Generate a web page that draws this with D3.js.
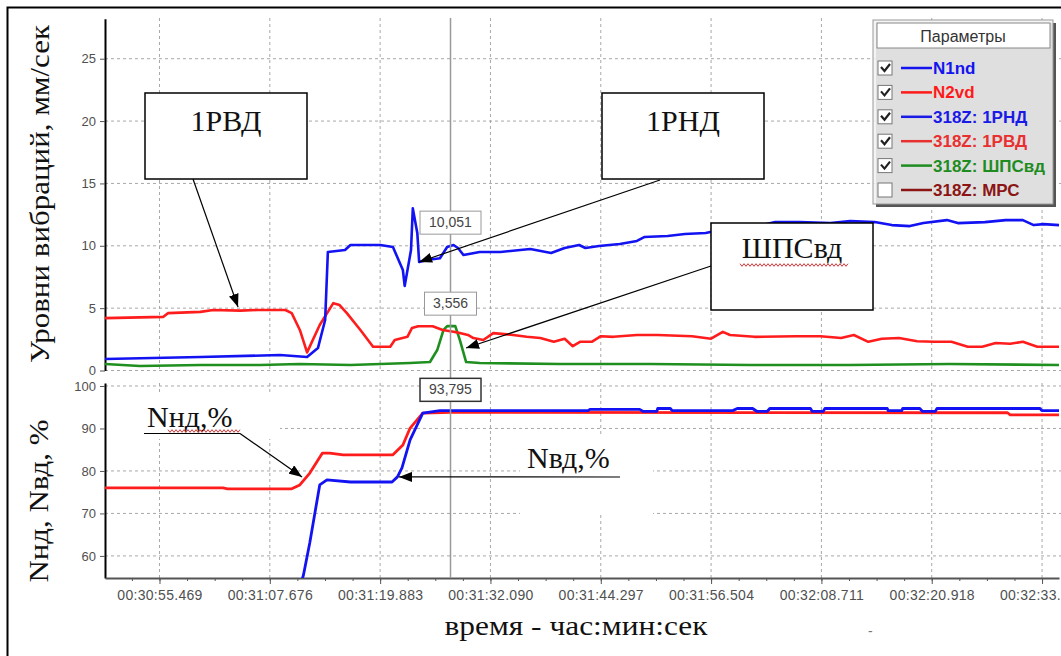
<!DOCTYPE html>
<html>
<head>
<meta charset="utf-8">
<script src="https://cdn.jsdelivr.net/npm/d3@7"></script>
<style>
  body { margin: 0; background: #fff; }
  svg text { font-family: "Liberation Sans", Arial, sans-serif; }
  svg .serif { font-family: "Liberation Serif", "Times New Roman", serif; fill: #111; }
</style>
</head>
<body>
<div id="chart"></div>
<script>
// время в секундах после 00:30:00
const xTicks = [55.469, 67.676, 79.883, 92.090, 104.297, 116.504, 128.711, 140.918, 153.125];
const xTickLabels = ["00:30:55.469", "00:31:07.676", "00:31:19.883", "00:31:32.090", "00:31:44.297",
                     "00:31:56.504", "00:32:08.711", "00:32:20.918", "00:32:33.125"];
const vibTicks = [0, 5, 10, 15, 20, 25];
const nTicks = [60, 70, 80, 90, 100];

// 318Z: 1РНД (синий, верхний график)
const rndTime = [49.4, 60.0, 68.8, 71.8, 73.0, 73.8, 74.1, 76.0, 76.6, 79.9, 81.3, 82.4, 82.6, 83.3, 83.5, 84.0, 84.2, 85.1, 86.5, 87.3,
                 88.0, 88.5, 89.1, 90.9, 93.2, 95.4, 96.5, 98.8, 100.3, 101.9, 102.6, 104.1, 106.4, 108.3, 109.1, 111.7, 113.6, 115.9, 117.5, 120.8,
                 123.6, 126.3, 129.7, 131.9, 134.6, 136.5, 138.5, 140.0, 142.6, 143.8, 146.8, 149.1, 151.0, 152.2, 153.3, 155.0];
const rndVal = [0.92, 1.08, 1.24, 1.08, 1.8, 4.05, 9.5, 9.66, 10.06, 10.06, 9.9, 8.06, 6.78, 9.66, 13.0, 11.0, 8.7, 8.86, 9.0, 9.9,
                10.06, 9.82, 9.26, 9.5, 9.5, 9.66, 9.74, 9.42, 9.82, 10.06, 9.82, 9.98, 10.14, 10.39, 10.7, 10.78, 10.95, 11.03, 11.26, 11.43,
                11.9, 11.9, 11.82, 11.98, 11.9, 11.66, 11.58, 11.82, 12.06, 11.82, 11.9, 12.06, 12.06, 11.66, 11.74, 11.66];

// 318Z: 1РВД (красный, верхний график)
const rvdTime = [49.4, 55.9, 56.4, 60.0, 61.4, 64.4, 66.3, 69.4, 70.1, 71.0, 71.8, 73.2, 74.7, 75.4, 76.2, 77.7, 79.1, 81.0, 81.5, 82.9,
                 83.4, 84.1, 85.7, 86.8, 88.0, 88.7, 89.6, 90.2, 91.3, 92.4, 94.6, 96.1, 97.6, 99.1, 100.3, 101.2, 102.0, 103.3, 104.3, 105.7,
                 108.3, 110.6, 114.4, 116.5, 117.8, 118.6, 121.3, 125.9, 128.6, 130.9, 132.3, 133.9, 135.4, 137.3, 139.3, 141.2, 143.1, 144.9, 146.5, 148.0,
                 149.6, 151.0, 152.6, 155.0];
const rvdVal = [4.2, 4.3, 4.6, 4.7, 4.85, 4.8, 4.85, 4.85, 4.6, 3.25, 1.45, 3.65, 5.4, 5.25, 4.6, 3.25, 1.9, 1.9, 2.45, 2.7,
                3.4, 3.55, 3.55, 3.25, 3.1, 3.0, 2.85, 2.6, 2.45, 3.0, 2.85, 2.7, 2.6, 2.3, 2.55, 1.95, 2.3, 2.3, 2.75, 2.7,
                2.85, 2.85, 2.75, 2.55, 3.1, 2.85, 2.7, 2.75, 2.75, 2.6, 2.85, 2.3, 2.55, 2.6, 2.35, 2.3, 2.3, 1.9, 1.9, 2.2,
                2.15, 2.3, 1.9, 1.9];

// 318Z: ШПСвд (зелёный)
const shpsTime = [49.4, 53.3, 60.0, 66.6, 71.0, 76.6, 79.9, 83.2, 85.4, 86.2, 86.9, 87.3, 88.2, 88.7, 89.4, 90.9, 99.8, 109.8, 120.8, 131.9, 142.9, 155.0];
const shpsVal = [0.52, 0.36, 0.44, 0.44, 0.52, 0.44, 0.52, 0.6, 0.68, 1.64, 3.25, 3.56, 3.56, 2.45, 0.68, 0.6, 0.52, 0.52, 0.44, 0.44, 0.52, 0.44];

// N2vd (красный, нижний график)
const n2Time = [49.4, 62.5, 63.0, 70.1, 71.0, 72.1, 73.5, 74.3, 75.8, 81.3, 82.4, 83.2, 84.6, 87.7, 149.3, 149.6, 155.0];
const n2Val = [76.0, 76.0, 75.8, 75.8, 76.7, 79.5, 84.2, 84.2, 83.8, 83.8, 86.1, 90.1, 93.6, 93.8, 93.7, 93.2, 93.2];

// N1nd (синий, нижний график)
const n1Time = [49.4, 70.9, 71.4, 72.1, 73.2, 74.0, 76.6, 81.2, 81.8, 82.3, 83.2, 84.6, 86.5, 102.9, 103.1, 108.6, 109.0, 110.5, 110.6, 112.0,
                112.2, 118.9, 119.4, 121.1, 121.6, 122.7, 123.0, 127.5, 127.7, 128.9, 129.1, 136.0, 136.1, 137.6, 137.7, 139.6, 139.9, 141.3, 141.5, 152.9,
                153.1, 155.0];
const n1Val = [52, 52, 55.5, 63.1, 76.7, 77.9, 77.4, 77.4, 78.6, 80.7, 87.3, 93.6, 94.2, 94.2, 94.5, 94.5, 94.0, 94.0, 94.7, 94.7,
               94.2, 94.2, 94.7, 94.7, 94.0, 94.0, 94.7, 94.7, 94.0, 94.0, 94.7, 94.7, 94.2, 94.2, 94.7, 94.7, 94.0, 94.0, 94.7, 94.7,
               94.2, 94.2];

// курсор и его показания
const cursorTime = 87.67;
const cursorValues = [10.051, 3.556, 93.795];
const cursorLabels = ["10,051", "3,556", "93,795"];

// легенда
const legendNames = ["N1nd", "N2vd", "318Z: 1РНД", "318Z: 1РВД", "318Z: ШПСвд", "318Z: МРС"];
const legendColors = ["#1414f0", "#ff1a1a", "#1a1ae6", "#e83030", "#1f8c1f", "#8b1414"];
const legendChecked = [true, true, true, true, true, false];

const BLUE = "#1212f2", RED = "#ff1c1c", GREEN = "#1f8f1f";

function draw() {
    const W = 1061, H = 656;
    const svg = d3.select("#chart").append("svg")
        .attr("width", W).attr("height", H);

    svg.append("rect").attr("width", W).attr("height", H).attr("fill", "#fff");

    const x = d3.scaleLinear().domain([49.44, 155.0]).range([105, 1059]);
    const yTop = d3.scaleLinear().domain([0, 28.2]).range([370.5, 18.8]);
    const yBot = d3.scaleLinear().domain([54.8, 100.7]).range([578, 383]);

    const defs = svg.append("defs");
    defs.append("clipPath").attr("id", "clipTop").append("rect")
        .attr("x", 105).attr("y", 18).attr("width", 960).attr("height", 354);
    defs.append("clipPath").attr("id", "clipBot").append("rect")
        .attr("x", 105).attr("y", 383).attr("width", 960).attr("height", 195);
    defs.append("marker").attr("id", "ah")
        .attr("viewBox", "0 0 13 10").attr("refX", 13).attr("refY", 5)
        .attr("markerWidth", 13).attr("markerHeight", 10)
        .attr("markerUnits", "userSpaceOnUse").attr("orient", "auto")
        .append("path").attr("d", "M0,0L13,5L0,10Z").attr("fill", "#000");

    // сетка
    const grid = svg.append("g")
        .attr("stroke", "#a8a8a8").attr("stroke-width", 1).attr("stroke-dasharray", "3,3");
    xTicks.forEach(t => {
        grid.append("line").attr("x1", x(t)).attr("x2", x(t)).attr("y1", 18).attr("y2", 371);
        grid.append("line").attr("x1", x(t)).attr("x2", x(t)).attr("y1", 383).attr("y2", 578);
    });
    vibTicks.forEach(v => grid.append("line")
        .attr("x1", 105).attr("x2", W).attr("y1", yTop(v)).attr("y2", yTop(v)));
    nTicks.forEach(v => grid.append("line")
        .attr("x1", 105).attr("x2", W).attr("y1", yBot(v)).attr("y2", yBot(v)));

    // белые подложки надписей (текстовые рамки)
    svg.append("rect").attr("x", 106).attr("y", 392).attr("width", 174).attr("height", 47).attr("fill", "#fff");
    svg.append("rect").attr("x", 520).attr("y", 437).attr("width", 133).attr("height", 78).attr("fill", "#fff");

    // оси
    const styleAxis = (g, color) => {
        g.selectAll("text").attr("fill", "#505050").style("font-size", "13px");
        g.selectAll(".tick line").attr("stroke", "#555");
        g.select(".domain").attr("stroke", color).attr("stroke-width", 2);
    };
    svg.append("g").attr("transform", "translate(105,0)")
        .call(d3.axisLeft(yTop).tickValues(vibTicks).tickSize(5).tickSizeOuter(0).tickPadding(4))
        .call(g => styleAxis(g, "#000"));
    svg.append("g").attr("transform", "translate(105,0)")
        .call(d3.axisLeft(yBot).tickValues(nTicks).tickSize(5).tickSizeOuter(0).tickPadding(4))
        .call(g => styleAxis(g, "#000"));

    const step = (xTicks[1] - xTicks[0]) / 4;
    const minor = d3.range(-1, xTicks.length * 4).map(i => xTicks[0] + i * step)
        .filter(t => t > x.domain()[0] && t < x.domain()[1]);
    svg.append("g").attr("transform", "translate(0,578)")
        .call(d3.axisBottom(x).tickValues(minor).tickSize(3).tickSizeOuter(0).tickFormat(""))
        .call(g => { g.select(".domain").remove(); g.selectAll("line").attr("stroke", "#555"); });
    svg.append("g").attr("transform", "translate(0,578)")
        .call(d3.axisBottom(x).tickValues(xTicks).tickFormat((d, i) => xTickLabels[i])
            .tickSize(6).tickSizeOuter(0).tickPadding(6))
        .call(g => {
            styleAxis(g, "#555");
            g.selectAll("text").style("font-size", "14px").style("letter-spacing", "0.3px");
        });

    // кривые
    const lineTop = d3.line().x(d => x(d[0])).y(d => yTop(d[1]));
    const lineBot = d3.line().x(d => x(d[0])).y(d => yBot(d[1]));
    const top = svg.append("g").attr("clip-path", "url(#clipTop)")
        .attr("fill", "none").attr("stroke-width", 2.6).attr("stroke-linejoin", "round");
    top.append("path").attr("d", lineTop(d3.zip(shpsTime, shpsVal))).attr("stroke", GREEN);
    top.append("path").attr("d", lineTop(d3.zip(rvdTime, rvdVal))).attr("stroke", RED);
    top.append("path").attr("d", lineTop(d3.zip(rndTime, rndVal))).attr("stroke", BLUE);
    const bot = svg.append("g").attr("clip-path", "url(#clipBot)")
        .attr("fill", "none").attr("stroke-width", 2.8).attr("stroke-linejoin", "round");
    bot.append("path").attr("d", lineBot(d3.zip(n2Time, n2Val))).attr("stroke", RED);
    bot.append("path").attr("d", lineBot(d3.zip(n1Time, n1Val))).attr("stroke", BLUE);

    // курсор
    const cx = x(cursorTime);
    svg.append("line").attr("x1", cx).attr("x2", cx).attr("y1", 18).attr("y2", 578)
        .attr("stroke", "#9a9a9a").attr("stroke-width", 1.5);
    const cursorY = [yTop(cursorValues[0]), yTop(cursorValues[1]), yBot(cursorValues[2])];
    cursorLabels.forEach((lab, i) => {
        const cy = cursorY[i] - 23;
        const w = i === 1 ? 52 : 61;
        svg.append("rect").attr("x", cx - w / 2).attr("y", cy - 11).attr("width", w).attr("height", 23)
            .attr("fill", "#fff").attr("stroke", i === 2 ? "#333" : "#999").attr("stroke-width", i === 2 ? 1.5 : 1);
        svg.append("text").attr("x", cx).attr("y", cy + 5).attr("text-anchor", "middle")
            .attr("fill", "#444").style("font-size", "14px").text(lab);
    });

    // легенда
    const lg = svg.append("g");
    lg.append("rect").attr("x", 876).attr("y", 23).attr("width", 180).attr("height", 184).attr("fill", "#555");
    lg.append("rect").attr("x", 873).attr("y", 20).attr("width", 180).attr("height", 184)
        .attr("fill", "#f2f2f2").attr("fill-opacity", 0.88).attr("stroke", "#999");
    lg.append("rect").attr("x", 877).attr("y", 23).attr("width", 173).attr("height", 25)
        .attr("fill", "#fff").attr("stroke", "#888");
    lg.append("text").attr("x", 963).attr("y", 42).attr("text-anchor", "middle")
        .attr("fill", "#333").style("font-size", "16px").text("Параметры");
    legendNames.forEach((name, i) => {
        const ry = 68 + i * 24.4;
        lg.append("rect").attr("x", 878).attr("y", ry - 7).attr("width", 14).attr("height", 14)
            .attr("fill", "#fff").attr("stroke", "#777");
        if (legendChecked[i]) {
            lg.append("path").attr("d", `M881,${ry - 1}L884.5,${ry + 3}L890,${ry - 4}`)
                .attr("fill", "none").attr("stroke", "#222").attr("stroke-width", 2.2);
        }
        lg.append("line").attr("x1", 901).attr("x2", 932).attr("y1", ry).attr("y2", ry)
            .attr("stroke", legendColors[i]).attr("stroke-width", 2.5);
        lg.append("text").attr("x", 933).attr("y", ry + 6).attr("fill", legendColors[i])
            .style("font-size", "17px").style("font-weight", "bold").text(name);
    });

    // надписи со стрелками
    const wavy = (x0, x1, y) => {
        const pts = d3.range(x0, x1 + 0.1, 2).map((px, k) => [px, y + (k % 2 ? 1.3 : -1.3)]);
        svg.append("path").attr("d", d3.line()(pts)).attr("fill", "none")
            .attr("stroke", "#d42020").attr("stroke-width", 0.9);
    };
    const arrow = (x0, y0, x1, y1) => svg.append("line")
        .attr("x1", x0).attr("y1", y0).attr("x2", x1).attr("y2", y1)
        .attr("stroke", "#000").attr("stroke-width", 1.2).attr("marker-end", "url(#ah)");
    const box = (bx, by, bw, bh, label, tx, ty) => {
        svg.append("rect").attr("x", bx).attr("y", by).attr("width", bw).attr("height", bh)
            .attr("fill", "#fff").attr("stroke", "#000").attr("stroke-width", 1.5);
        svg.append("text").attr("class", "serif").attr("x", tx).attr("y", ty)
            .attr("text-anchor", "middle").style("font-size", "30px").text(label);
    };

    box(145, 93, 162, 86, "1РВД", 226, 131);
    arrow(193, 179, x(64.16), yTop(5.09));

    box(602, 93, 162, 86, "1РНД", 683, 131);
    arrow(660, 180, x(84.19), yTop(8.7));

    box(711, 223, 162, 87, "ШПСвд", 792, 258);
    wavy(740, 848, 265);
    arrow(711, 266, x(89.39), yTop(1.8));

    svg.append("text").attr("class", "serif").attr("x", 147).attr("y", 427)
        .style("font-size", "30px").text("Nнд,%");
    wavy(168, 240, 431);
    svg.append("line").attr("x1", 144).attr("x2", 240).attr("y1", 433.5).attr("y2", 433.5)
        .attr("stroke", "#000").attr("stroke-width", 1.2);
    arrow(240, 433.5, x(71.24), yBot(78.6));

    svg.append("text").attr("class", "serif").attr("x", 527).attr("y", 468)
        .style("font-size", "30px").text("Nвд,%");
    arrow(620, 477, x(81.97), yBot(78.6));

    // подписи осей
    svg.append("text").attr("class", "serif")
        .attr("transform", "translate(49,194) rotate(-90)").attr("text-anchor", "middle")
        .attr("textLength", 338).attr("lengthAdjust", "spacingAndGlyphs")
        .style("font-size", "28px").text("Уровни вибраций, мм/сек");
    svg.append("text").attr("class", "serif")
        .attr("transform", "translate(48,501) rotate(-90)").attr("text-anchor", "middle")
        .attr("textLength", 163).attr("lengthAdjust", "spacingAndGlyphs")
        .style("font-size", "28px").text("Nнд, Nвд, %");
    svg.append("text").attr("class", "serif")
        .attr("x", 576).attr("y", 635).attr("text-anchor", "middle")
        .attr("textLength", 263).attr("lengthAdjust", "spacingAndGlyphs")
        .style("font-size", "28px").text("время - час:мин:сек");
    svg.append("text").attr("x", 868).attr("y", 636).attr("fill", "#777")
        .style("font-size", "14px").text("-");

    // рамка
    svg.append("rect").attr("x", 7.5).attr("y", 7.5).attr("width", 1070).attr("height", 670)
        .attr("fill", "none").attr("stroke", "#000").attr("stroke-width", 2);
}

document.addEventListener('DOMContentLoaded', draw);
</script>
</body>
</html>
